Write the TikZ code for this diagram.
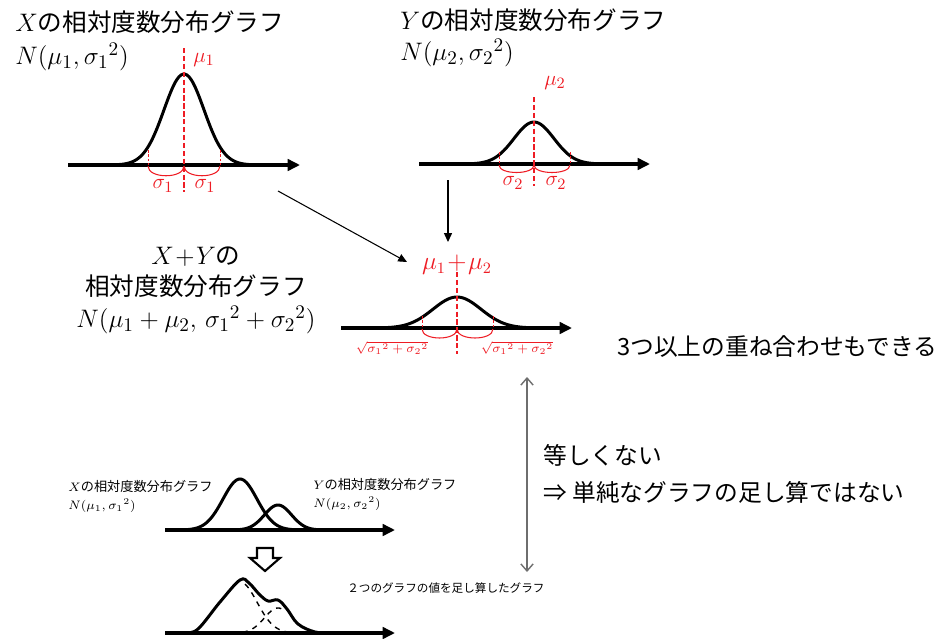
\documentclass[tikz,border=0pt]{standalone}
\usepackage{amsmath,amssymb}
\usepackage{fontspec}
\setmainfont{Noto Sans CJK JP}
\usepackage{tikz}
\usetikzlibrary{arrows.meta}
\definecolor{coraka}{RGB}{238,28,36}
\definecolor{corhai}{RGB}{110,110,110}

\begin{document}
\begin{tikzpicture}[x=0.02cm, y=-0.02cm,
  jiku/.style={line width=2.3pt, -{Triangle[length=7pt,width=6.5pt]}},
  kyokusen/.style={line width=1.7pt, smooth, samples=70},
  tensen/.style={line width=0.8pt, dashed, smooth, samples=70},
  heikin/.style={coraka, line width=1.1pt, dash pattern=on 3pt off 1.5pt},
  haba/.style={coraka, line width=0.5pt, dash pattern=on 1.5pt off 1pt},
  kakko/.style={coraka, line width=0.6pt},
  seta/.style={line width=0.6pt, -{Triangle[length=5pt,width=4.5pt]}},
  hikaku/.style={corhai, line width=0.8pt, {Straight Barb[length=4pt,width=7pt]}-{Straight Barb[length=4pt,width=7pt]}},
  titulo/.style={anchor=west, inner sep=0pt, font=\fontsize{14}{17}\selectfont},
  pequeno/.style={anchor=west, inner sep=0pt, font=\fontsize{7.5}{9}\selectfont},
  rotulo/.style={coraka, inner sep=0pt, font=\fontsize{12.5}{14}\selectfont},
  raiz/.style={coraka, inner sep=0pt, font=\fontsize{7.5}{9}\selectfont}
]
  \useasboundingbox (0,0) rectangle (937,639);

  % X
  \node[titulo] (tituloX) at (15,22) {$X$の相対度数分布グラフ};
  \node[titulo, font=\fontsize{15}{17}\selectfont] (normalX) at (15,57) {$N(\mu_1,{\sigma_1}^2)$};
  \draw[jiku] (68,165) -- (300,165);
  \draw[kyokusen] plot[domain=112:256] (\x,{165-91*exp(-((\x-184)^2)/800)});
  \draw[heikin] (184,48) -- (184,192);
  \draw[haba] (148,150) -- (148,165) (220,150) -- (220,165);
  \draw[kakko] (148,166) .. controls (148,179) and (184,179) .. (184,166);
  \draw[kakko] (184,166) .. controls (184,179) and (220,179) .. (220,166);
  \node[rotulo] (muX) at (204,60) {$\mu_1$};
  \node[rotulo] (sigXa) at (163,186) {$\sigma_1$};
  \node[rotulo] (sigXb) at (205,186) {$\sigma_1$};

  % Y
  \node[titulo] (tituloY) at (400,20) {$Y$の相対度数分布グラフ};
  \node[titulo, font=\fontsize{15}{17}\selectfont] (normalY) at (400,53) {$N(\mu_2,{\sigma_2}^2)$};
  \draw[jiku] (419,164) -- (650,164);
  \draw[kyokusen] plot[domain=466:602] (\x,{164-42*exp(-((\x-534)^2)/800)});
  \draw[heikin] (534,97) -- (534,186);
  \draw[haba] (499,152) -- (499,164) (570,152) -- (570,164);
  \draw[kakko] (499,165) .. controls (499,175) and (534,175) .. (534,165);
  \draw[kakko] (534,165) .. controls (534,175) and (570,175) .. (570,165);
  \node[rotulo] (muY) at (555,83) {$\mu_2$};
  \node[rotulo] (sigYa) at (513,183) {$\sigma_2$};
  \node[rotulo] (sigYb) at (556,183) {$\sigma_2$};

  % X+Y
  \node[align=center, inner sep=0pt, font=\fontsize{14}{17}\selectfont] (goukei) at (196,290)
    {$X\!+\!Y$の\\[1pt]相対度数分布グラフ\\[1pt]{\fontsize{15}{17}\selectfont$N(\mu_1+\mu_2,\,{\sigma_1}^2+{\sigma_2}^2)$}};
  \draw[jiku] (341,328) -- (572,328);
  \draw[kyokusen] plot[domain=377:537] (\x,{328-31*exp(-((\x-457)^2)/1152)});
  \draw[heikin] (457,272) -- (457,354);
  \draw[haba] (422,316) -- (422,328) (493,316) -- (493,328);
  \draw[kakko] (422,329) .. controls (422,341) and (457,341) .. (457,329);
  \draw[kakko] (457,329) .. controls (457,341) and (493,341) .. (493,329);
  \node[rotulo, font=\fontsize{13.5}{15}\selectfont] (muXY) at (457,265) {$\mu_1\!+\!\mu_2$};
  \node[raiz] (raizA) at (392,348) {$\sqrt{{\sigma_1}^2+{\sigma_2}^2}$};
  \node[raiz] (raizB) at (517,348) {$\sqrt{{\sigma_1}^2+{\sigma_2}^2}$};

  \coordinate (saidaX) at (278,191);
  \coordinate (chegadaX) at (407,262);
  \coordinate (saidaY) at (448,180);
  \coordinate (chegadaY) at (448,242);
  \draw[seta] (saidaX) -- (chegadaX);
  \draw[seta] (saidaY) -- (chegadaY);

  \node[titulo, font=\fontsize{13.5}{16}\selectfont] (kasane) at (617,347) {3つ以上の重ね合わせもできる};
  \node[titulo, font=\fontsize{13.5}{16}\selectfont] (hitoshi) at (543,455) {等しくない};
  \node[titulo, font=\fontsize{13.5}{16}\selectfont] (tanjun) at (543,492) {⇒ 単純なグラフの足し算ではない};

  % soma simples
  \node[pequeno] (peqX) at (68,487) {$X$の相対度数分布グラフ};
  \node[pequeno] (peqNX) at (68,506) {$N(\mu_1,{\sigma_1}^2)$};
  \node[pequeno] (peqY) at (313,485) {$Y$の相対度数分布グラフ};
  \node[pequeno] (peqNY) at (313,504) {$N(\mu_2,{\sigma_2}^2)$};
  \draw[jiku] (165,530) -- (395,530);
  \draw[kyokusen] plot[domain=185:300] (\x,{530-51*exp(-((\x-240)^2)/578)});
  \draw[kyokusen] plot[domain=232:330] (\x,{530-25*exp(-((\x-278)^2)/365)});
  \draw[line width=1.2pt, line join=miter] (257,548) -- (273,548) -- (273,558) -- (280,558)
    -- (265,571) -- (250,558) -- (257,558) -- cycle;
  \draw[jiku] (165,633) -- (395,633);
  \draw[tensen] plot[domain=245:300] (\x,{633-51*exp(-((\x-240)^2)/578)});
  \draw[tensen] plot[domain=232:285] (\x,{633-25*exp(-((\x-278)^2)/365)});
  \draw[kyokusen, tension=0.6] plot coordinates {(185,633) (198,629) (220,602) (240,580)
    (249,583) (259,594) (268,601) (278,600) (287,609) (298,624) (315,632) (330,633)};
  \node[pequeno, font=\fontsize{6.6}{8}\selectfont] (somado) at (347,588) {２つのグラフの値を足し算したグラフ};

  \coordinate (topo) at (527,377);
  \coordinate (fundo) at (527,572);
  \draw[hikaku] (topo) -- (fundo);
\end{tikzpicture}
\end{document}
